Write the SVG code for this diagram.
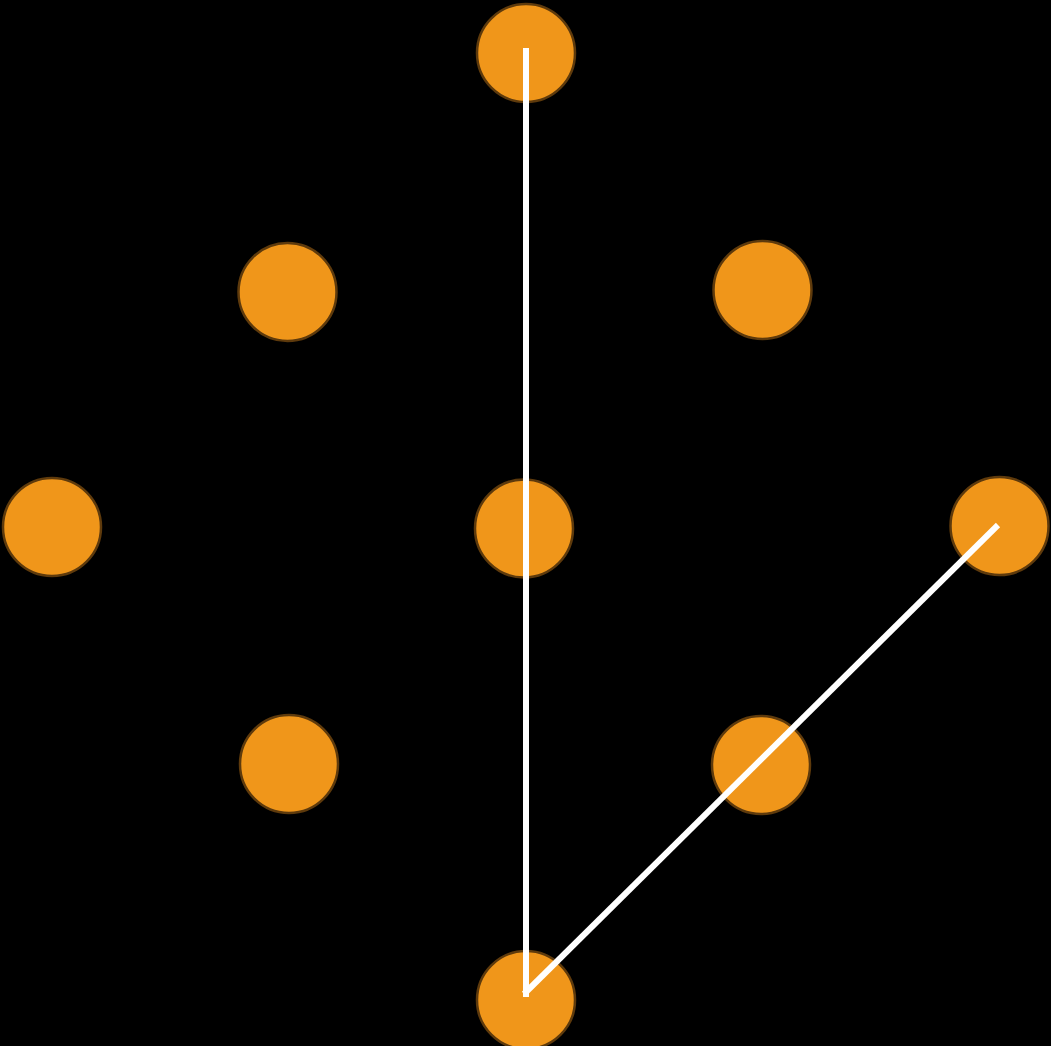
<svg xmlns="http://www.w3.org/2000/svg" width="1051" height="1046" viewBox="0 0 1051 1046">
<style>
.node{fill:#f0961a;stroke:#5e3a0c;stroke-width:2.5}
.edge{stroke:#ffffff;stroke-width:6;fill:none;stroke-linecap:butt}
</style>
<rect width="1051" height="1046" fill="#000000"/>
<g id="n1"><circle class="node" cx="526" cy="53" r="49"/></g>
<g id="n2"><circle class="node" cx="287.5" cy="292" r="49"/></g>
<g id="n3"><circle class="node" cx="762.5" cy="290" r="49"/></g>
<g id="n4"><circle class="node" cx="52" cy="527" r="49"/></g>
<g id="n5"><circle class="node" cx="524" cy="528.5" r="49"/></g>
<g id="n6"><circle class="node" cx="999.5" cy="526" r="49"/></g>
<g id="n7"><circle class="node" cx="289" cy="764" r="49"/></g>
<g id="n8"><circle class="node" cx="761" cy="765" r="49"/></g>
<g id="n9"><circle class="node" cx="526" cy="1000" r="49"/></g>
<g id="edges">
<line class="edge" x1="526" y1="48" x2="526" y2="997"/>
<line class="edge" x1="998" y1="525" x2="524" y2="994"/>
</g>
</svg>
